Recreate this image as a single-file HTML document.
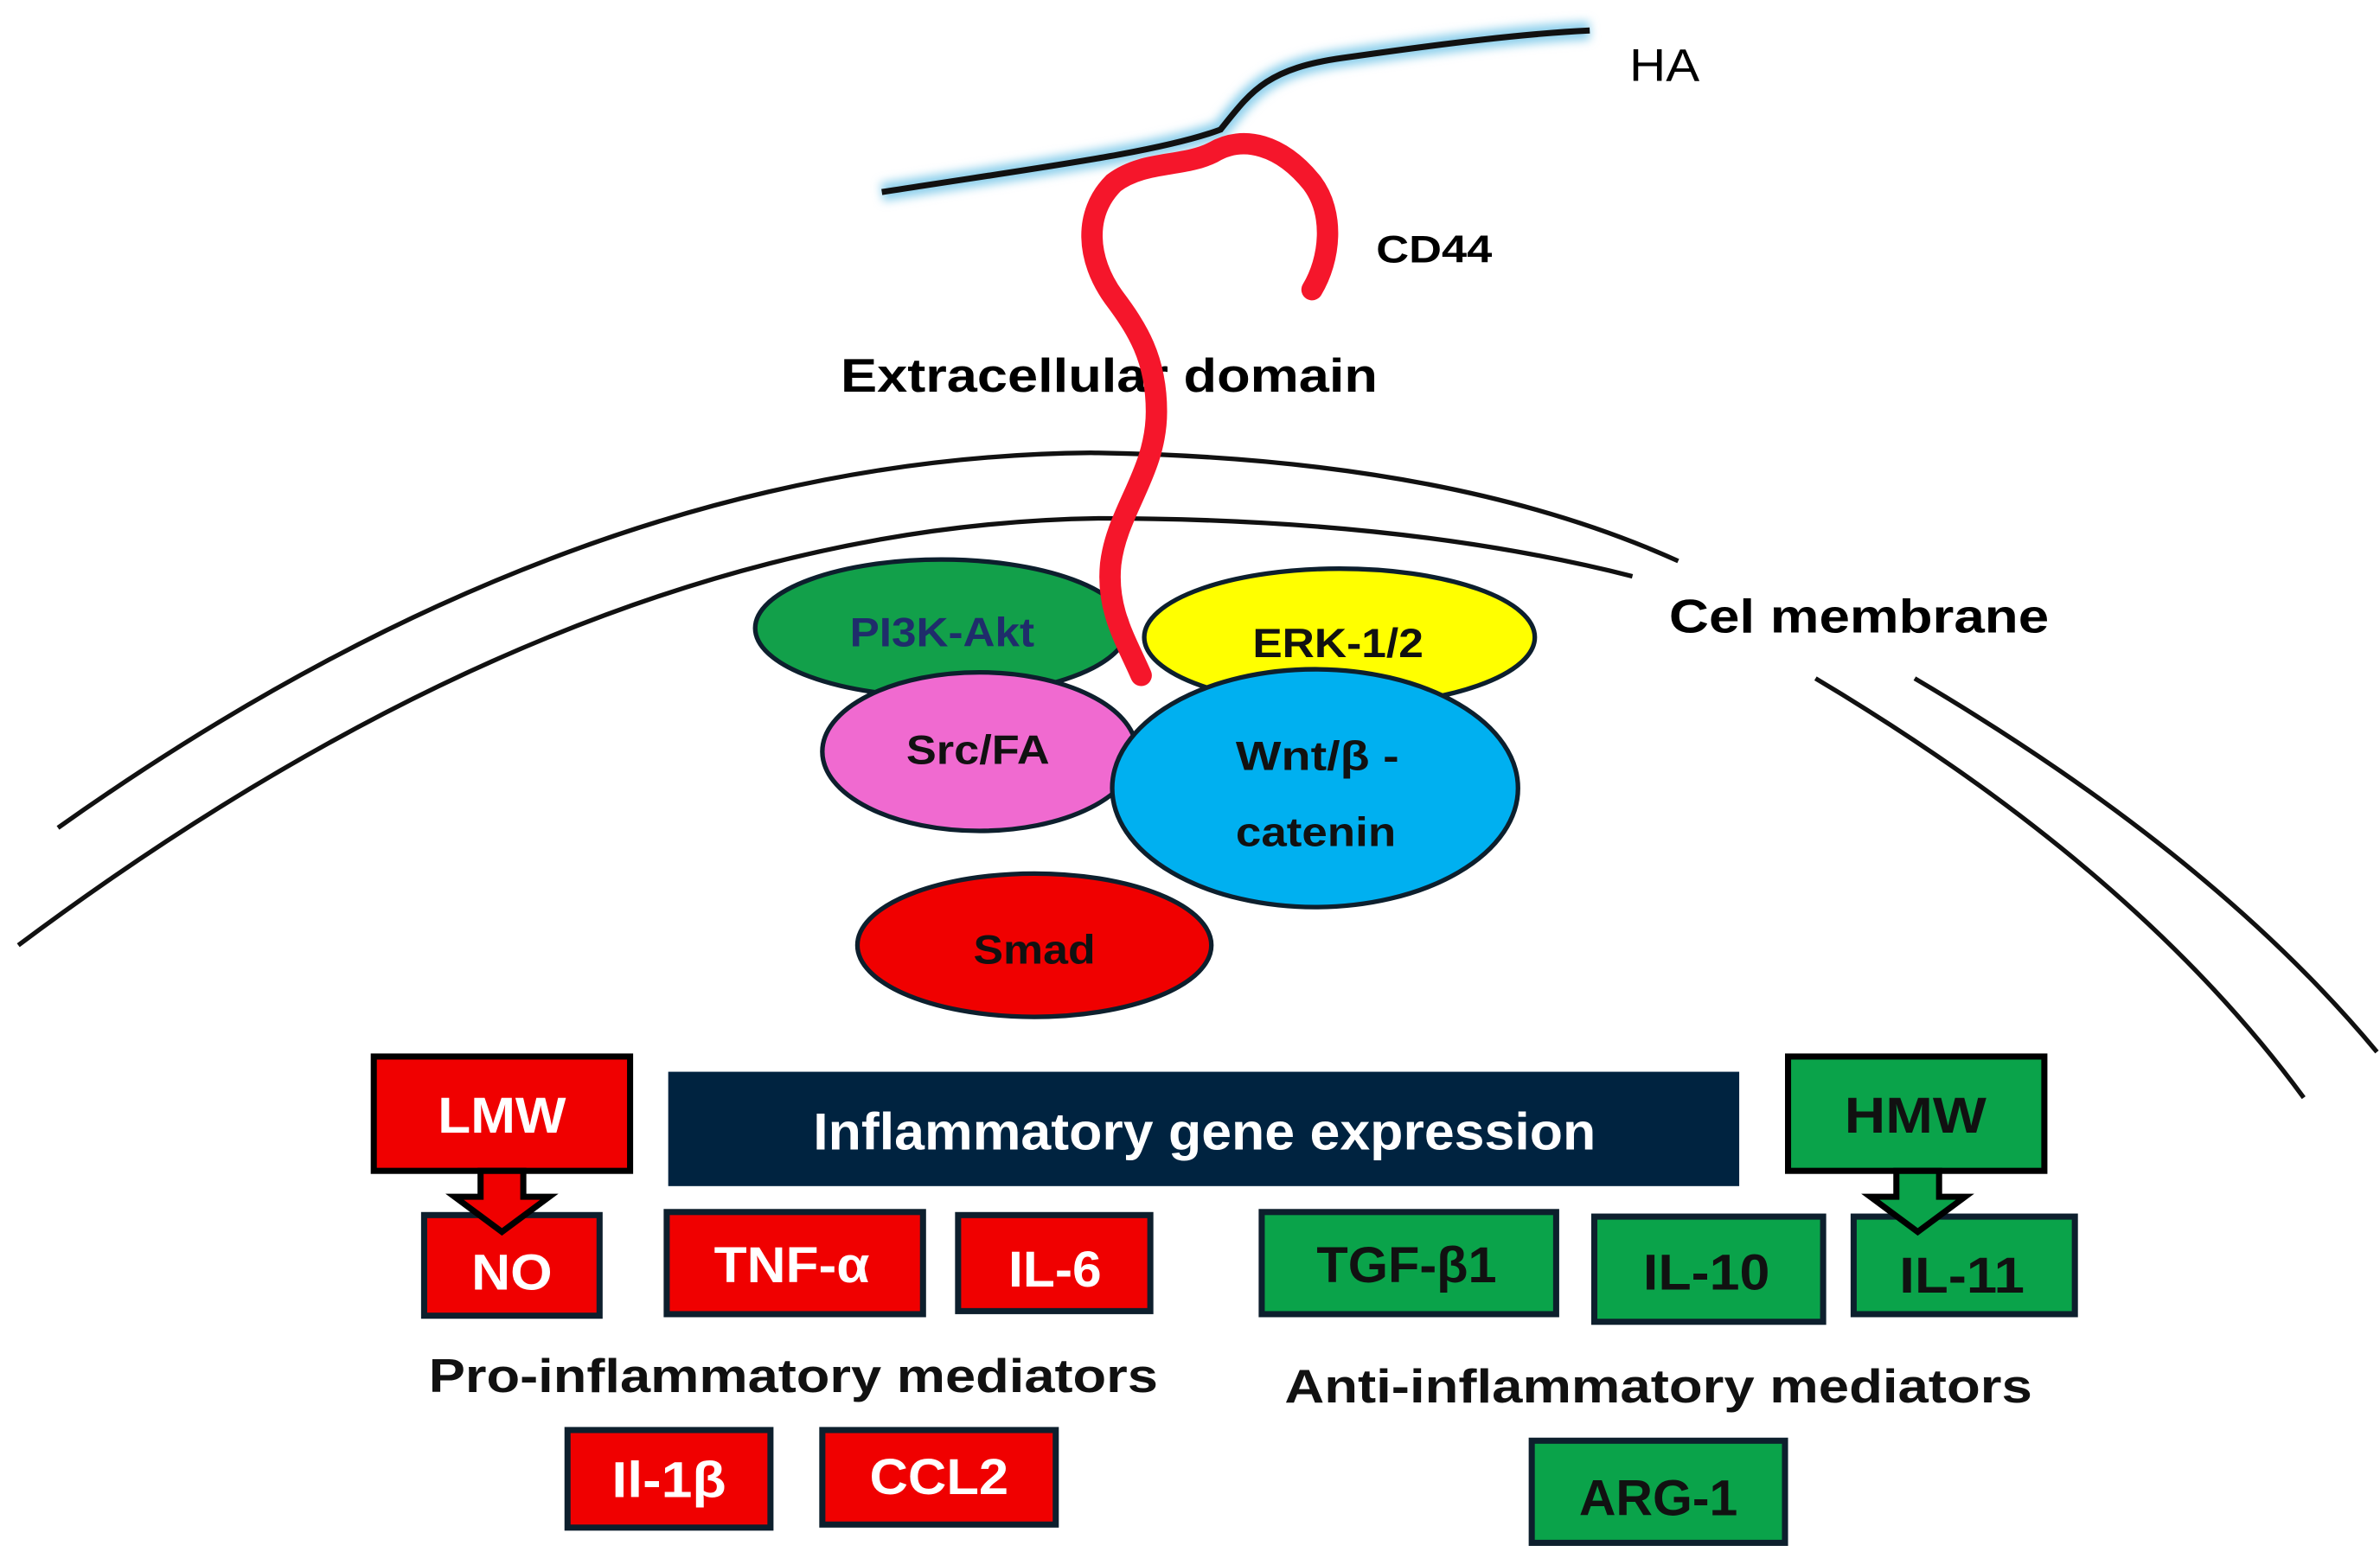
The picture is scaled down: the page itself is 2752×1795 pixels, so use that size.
<!DOCTYPE html>
<html><head><meta charset="utf-8"><style>
html,body{margin:0;padding:0;background:#fff;}
svg{display:block;}
text{font-family:"Liberation Sans",sans-serif;font-weight:bold;}
</style></head><body>
<svg width="2752" height="1795" viewBox="0 0 1560 1018" preserveAspectRatio="none" xmlns="http://www.w3.org/2000/svg">
<defs><filter id="glow" x="-10%" y="-50%" width="120%" height="200%"><feGaussianBlur stdDeviation="3"/></filter></defs>
<!-- HA -->
<path d="M578,126 C680,110 760,100 800,85 C820,60 830,45 880,38 C950,28 1000,22 1042,20" fill="none" stroke="#8fd0ec" stroke-width="12" filter="url(#glow)"/>
<path d="M578,126 C680,110 760,100 800,85 C820,60 830,45 880,38 C950,28 1000,22 1042,20" fill="none" stroke="#111" stroke-width="4"/>
<text x="1068" y="53" font-size="30" style="font-weight:normal" textLength="46" lengthAdjust="spacingAndGlyphs">HA</text>
<text x="902" y="172" font-size="25" textLength="76" lengthAdjust="spacingAndGlyphs">CD44</text>
<text x="551" y="257" font-size="31" textLength="352" lengthAdjust="spacingAndGlyphs">Extracellular domain</text>
<!-- membrane -->
<g fill="none" stroke="#111" stroke-width="3">
<path d="M38,543 Q380,300 715,297 Q950,300 1100,368"/>
<path d="M1255,445 Q1450,560 1558,690"/>
<path d="M12,620 Q380,345 720,340 Q920,340 1070,378"/>
<path d="M1190,445 Q1400,570 1510,720"/>
</g>
<text x="1094" y="415" font-size="31" textLength="249" lengthAdjust="spacingAndGlyphs">Cel membrane</text>
<!-- ellipses -->
<g stroke="#0d1f2d" stroke-width="3">
<ellipse cx="617" cy="412" rx="122" ry="45" fill="#12a04a"/>
<ellipse cx="878" cy="418" rx="128" ry="45" fill="#ffff00"/>
<ellipse cx="642" cy="493" rx="103" ry="52" fill="#f06ad0"/>
<ellipse cx="862" cy="517" rx="133" ry="78" fill="#00b0f0"/>
<ellipse cx="678" cy="620" rx="116" ry="47" fill="#f00000"/>
</g>
<g font-size="27" fill="#111" lengthAdjust="spacingAndGlyphs">
<text x="557" y="424" fill="#1f2d6b" textLength="121" lengthAdjust="spacingAndGlyphs">PI3K-Akt</text>
<text x="821" y="431" textLength="112" lengthAdjust="spacingAndGlyphs">ERK-1/2</text>
<text x="594" y="501" textLength="94" lengthAdjust="spacingAndGlyphs">Src/FA</text>
<text x="810" y="505" textLength="107" lengthAdjust="spacingAndGlyphs">Wnt/β -</text>
<text x="810" y="555" textLength="105" lengthAdjust="spacingAndGlyphs">catenin</text>
<text x="638" y="632" textLength="80" lengthAdjust="spacingAndGlyphs">Smad</text>
</g>
<!-- CD44 -->
<path d="M748,443 C738,420 725,400 728,370 C732,335 758,310 758,270 C758,235 745,215 730,195 C712,170 710,140 730,120 C750,105 775,110 795,100 C815,88 840,95 860,120 C875,140 872,170 860,190" fill="none" stroke="#f5162b" stroke-width="14" stroke-linecap="round"/>
<!-- bar -->
<rect x="438" y="703" width="702" height="75" fill="#002340"/>
<text x="533" y="754" font-size="34" fill="#fff" textLength="513" lengthAdjust="spacingAndGlyphs">Inflammatory gene expression</text>
<!-- red boxes -->
<g stroke="#0d1f2d" stroke-width="4" fill="#f00000">
<rect x="278" y="797" width="115" height="66"/>
<rect x="437" y="795" width="168" height="67"/>
<rect x="628" y="797" width="126" height="63"/>
<rect x="372" y="938" width="133" height="64"/>
<rect x="539" y="938" width="153" height="62"/>
</g>
<g stroke="#000" stroke-width="4" fill="#f00000">
<rect x="245" y="693" width="168" height="75"/>
<path d="M315,768 L315,785 L298,785 L329,808 L360,785 L343,785 L343,768 Z"/>
</g>
<g font-size="33" fill="#fff">
<text x="287" y="743" textLength="84" lengthAdjust="spacingAndGlyphs">LMW</text>
<text x="309" y="846" textLength="53" lengthAdjust="spacingAndGlyphs">NO</text>
<text x="468" y="841" textLength="102" lengthAdjust="spacingAndGlyphs">TNF-α</text>
<text x="661" y="844" textLength="61" lengthAdjust="spacingAndGlyphs">IL-6</text>
<text x="401" y="982" textLength="75" lengthAdjust="spacingAndGlyphs">Il-1β</text>
<text x="570" y="980" textLength="91" lengthAdjust="spacingAndGlyphs">CCL2</text>
</g>
<!-- green boxes -->
<g stroke="#0d1f2d" stroke-width="4" fill="#0aa34a">
<rect x="827" y="795" width="193" height="67"/>
<rect x="1045" y="798" width="150" height="69"/>
<rect x="1215" y="798" width="145" height="64"/>
<rect x="1004" y="945" width="166" height="67"/>
</g>
<g stroke="#000" stroke-width="4" fill="#0aa34a">
<rect x="1172" y="693" width="168" height="75"/>
<path d="M1243,768 L1243,785 L1226,785 L1257,808 L1288,785 L1271,785 L1271,768 Z"/>
</g>
<g font-size="33" fill="#111">
<text x="1209" y="743" textLength="93" lengthAdjust="spacingAndGlyphs">HMW</text>
<text x="863" y="841" textLength="118" lengthAdjust="spacingAndGlyphs">TGF-β1</text>
<text x="1077" y="846" textLength="83" lengthAdjust="spacingAndGlyphs">IL-10</text>
<text x="1245" y="848" textLength="82" lengthAdjust="spacingAndGlyphs">IL-11</text>
<text x="1035" y="994" textLength="104" lengthAdjust="spacingAndGlyphs">ARG-1</text>
</g>
<g font-size="31" fill="#111">
<text x="281" y="913" textLength="478" lengthAdjust="spacingAndGlyphs">Pro-inflammatory mediators</text>
<text x="842" y="920" textLength="490" lengthAdjust="spacingAndGlyphs">Anti-inflammatory mediators</text>
</g>
</svg>
</body></html>
